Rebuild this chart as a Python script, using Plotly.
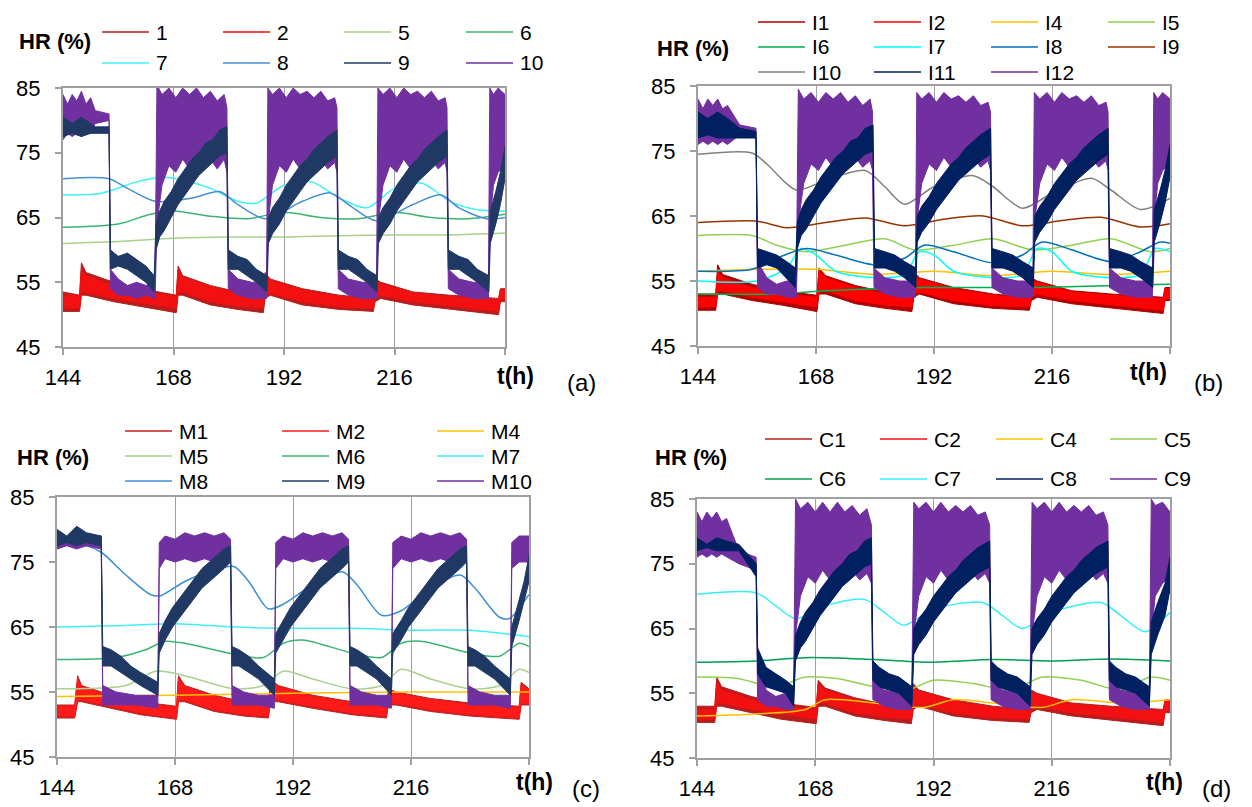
import plotly.graph_objects as go

# page offset: the browser adds an 8px body margin, so the figure is 8px smaller
OFF = 8
FW, FH = 1252 - OFF, 807 - OFF
FONT = "Arial, 'Liberation Sans', sans-serif"
AXIS_GRAY = "#a0a0a0"

X_TICKVALS = [144, 168, 192, 216, 240]
X_TICKTEXT = ["144", "168", "192", "216", ""]
Y_TICKVALS = [45, 55, 65, 75, 85]
Y_TICKTEXT = ["45", "55", "65", "75", "85"]

# ---------------- panel (a) ----------------
A_NAMES = ["1", "2", "5", "6", "7", "8", "9", "10"]
A_COLORS = ["#b81c1c", "#f21010", "#a9d18e", "#3cb371", "#3ff0f5", "#4a8fd0", "#1f3864", "#7030a0"]
# noisy series: rows of (t, upper envelope, lower envelope)
A_S1 = [(144, 53.5, 50.5), (147.6, 53, 50.5), (148.0, 58, 53), (149, 56.5, 53), (155, 55, 52),
        (161, 54, 51.3), (168.6, 53, 50.3), (169.0, 57.5, 53), (170, 56, 53), (176, 54.5, 51.5),
        (182, 53.5, 50.8), (187.5, 53, 50.3), (187.9, 56.5, 52.5), (189, 55.5, 53), (196, 54, 51.5),
        (204, 53, 50.8), (211.4, 52.5, 50.5), (211.8, 55.5, 52), (213, 55, 52.5), (220, 53.5, 51.5),
        (228, 53, 50.8), (238.6, 52.5, 50), (239, 54, 52), (240, 54, 52)]
A_S2 = [(144, 53, 51), (147.6, 53, 51), (148.0, 57, 53.5), (149, 56, 53.5), (155, 54.5, 52.5),
        (161, 53.5, 51.8), (168.6, 52.8, 51), (169.0, 57, 53.5), (170, 55.8, 53.5), (176, 54.3, 52),
        (182, 53.3, 51.3), (187.5, 52.8, 51), (187.9, 56, 53), (189, 55.3, 53.3), (196, 53.8, 52),
        (204, 52.8, 51.2), (211.4, 52.3, 51), (211.8, 55, 52.5), (213, 54.8, 53), (220, 53.3, 52),
        (228, 52.8, 51.3), (238.6, 52.3, 50.5), (239, 53.8, 52.3), (240, 53.8, 52.3)]
# smooth series: rows of (t, value)
A_S5 = [(144, 61), (156, 61.3), (168, 61.8), (180, 62), (192, 62), (204, 62.2), (216, 62.3), (228, 62.3), (240, 62.6)]
A_S6 = [(144, 63.5), (156, 64), (163, 65.5), (168, 66), (176, 65.2), (184, 64.8), (192, 65.8), (200, 65),
        (208, 64.8), (216, 65.8), (224, 65), (232, 64.8), (240, 65.5)]
A_S7 = [(144, 68.5), (152, 68.7), (160, 70.5), (166, 71.2), (170, 70.8), (176, 69.5), (182, 67.5), (186, 67.2),
        (192, 70), (198, 70.5), (204, 68), (210, 66.5), (216, 69.5), (222, 70.3), (228, 67.5), (234, 66.2), (240, 66)]
A_S8 = [(144, 71), (154, 71), (158, 69.5), (164, 67.5), (172, 68), (178, 69), (182, 67), (188, 64.8), (196, 67.5),
        (202, 68.8), (206, 67), (212, 64.5), (220, 67), (226, 68.5), (230, 66.5), (236, 64.8), (240, 65)]
A_S9 = [(144, 80.5, 77.5), (146, 79.5, 78), (148, 80.5, 77.5), (150, 79.5, 78), (151, 79, 78), (154.0, 79, 78),
        (154.3, 60, 57), (156, 59, 57.5), (158, 59.5, 57), (160, 58.5, 56), (162, 57.5, 55), (163.8, 56, 53.5),
        (164.2, 64, 60), (165, 66, 62), (166, 67.5, 63), (167.5, 69, 65), (169, 71, 67), (170.5, 72.5, 68.5),
        (172, 74, 70), (173.5, 75, 71.5), (175, 76.5, 72.5), (176.5, 77, 73.5), (178, 78.5, 74.5), (179.6, 79, 75),
        (179.9, 60, 57), (182, 59, 57), (184, 58.5, 56), (186, 57, 55), (188.3, 56, 53.5),
        (188.6, 65, 61), (189.5, 66.5, 62.5), (191, 68, 64), (192.5, 70, 66), (194, 71.5, 67.5), (195.5, 73, 69),
        (197, 74, 70.5), (198.5, 75.5, 71.5), (200, 76.5, 72.5), (201.5, 77.5, 73.5), (203.5, 78.5, 74.5),
        (203.8, 60, 57), (206, 59, 57), (208, 58.5, 56), (210, 57, 55), (212.2, 56, 53.5),
        (212.5, 65, 61), (213.5, 66.5, 62.5), (215, 68, 64), (216.5, 70, 66), (218, 71.5, 67.5), (219.5, 73, 69),
        (221, 74, 70.5), (222.5, 75.5, 71.5), (224, 76.5, 72.5), (225.5, 77.5, 73.5), (227.4, 78.5, 74.5),
        (227.7, 60, 57), (230, 59, 57), (232, 58.5, 56), (234, 57, 55), (236.5, 56, 53.5),
        (236.8, 66, 61), (238, 69, 64), (239, 72, 67), (240, 76, 71)]
A_S10 = [(144, 84, 77), (145, 82.5, 78), (146, 84, 77.5), (147, 83, 78), (148, 84.5, 77.5), (149, 82.5, 78),
         (150, 83.5, 78), (151, 81.5, 79.5), (154.0, 81, 80),
         (154.3, 57, 54), (156, 55.5, 53), (158, 54.5, 53), (160, 55, 52.5), (162, 54.5, 53), (164.0, 55, 52.5),
         (164.4, 85.5, 64), (165.5, 84, 70), (167, 85, 73), (168.5, 83.5, 72), (170, 85, 74), (171.5, 84, 72.5),
         (173, 85, 74), (174.5, 83.5, 73), (176, 84.5, 74), (177.5, 83, 72.5), (179, 84, 74), (179.6, 82, 72),
         (179.9, 57, 54), (182, 55.5, 53), (185, 55, 52.5), (188.2, 55, 52.5),
         (188.5, 85, 64), (189.5, 84, 70), (191, 85, 73), (192.5, 83.5, 72), (194, 85, 74), (195.5, 84, 72.5),
         (197, 84.5, 74), (198.5, 83.5, 73), (200, 84.5, 74), (201.5, 83, 72.5), (203, 83.5, 73.5), (203.5, 82, 72),
         (203.8, 57, 54), (206, 55.5, 53), (209, 55, 52.5), (212.1, 55, 52.5),
         (212.4, 85, 64), (213.5, 84, 70), (215, 85, 73), (216.5, 83.5, 72), (218, 85, 74), (219.5, 84, 72.5),
         (221, 84.5, 74), (222.5, 83.5, 73), (224, 84.5, 74), (225.5, 83, 72.5), (227, 83.5, 73.5), (227.4, 82, 72),
         (227.7, 57, 54), (230, 55.5, 53), (233, 55, 52.5), (236.4, 55, 52.5),
         (236.7, 85, 64), (237.5, 84, 70), (238.5, 85, 72), (240, 84, 73)]

# ---------------- panel (b) ----------------
B_NAMES = ["I1", "I2", "I4", "I5", "I6", "I7", "I8", "I9", "I10", "I11", "I12"]
B_COLORS = ["#b00000", "#ff0000", "#ffc000", "#92d050", "#00b050", "#00ffff", "#0070c0", "#993300",
            "#808080", "#002060", "#7030a0"]
B_S1 = [(144, 53, 50.5), (147.6, 53, 50.5), (148.0, 57.5, 53), (149, 56, 53), (155, 54.5, 52),
        (161, 53.5, 51.3), (168.2, 52.8, 50.3), (168.6, 57, 53), (170, 55.8, 53), (176, 54.3, 51.5),
        (182, 53.3, 50.8), (187.5, 52.8, 50.3), (187.9, 56.5, 52.5), (189, 55.5, 53), (196, 54, 51.5),
        (204, 53, 50.8), (211.4, 52.5, 50.5), (211.8, 55.5, 52), (213, 55, 52.5), (220, 53.5, 51.5),
        (228, 53, 50.8), (238.6, 52.5, 50), (239, 54, 52), (240, 54, 52)]
B_S2 = [(144, 52.5, 51), (147.6, 52.5, 51), (148.0, 56.5, 53.5), (149, 55.5, 53.5), (155, 54, 52.5),
        (161, 53, 51.8), (168.2, 52.5, 51), (168.6, 56.5, 53.5), (170, 55.5, 53.5), (176, 54, 52),
        (182, 53, 51.3), (187.5, 52.5, 51), (187.9, 56, 53), (189, 55.3, 53.3), (196, 53.8, 52),
        (204, 52.8, 51.2), (211.4, 52.3, 51), (211.8, 55, 52.5), (213, 54.8, 53), (220, 53.3, 52),
        (228, 52.8, 51.3), (238.6, 52.3, 50.5), (239, 53.8, 52.3), (240, 53.8, 52.3)]
B_S4 = [(144, 56.5), (156, 56.8), (168, 56.8), (180, 56), (192, 56.5), (204, 55.8), (216, 56.5), (228, 56), (240, 56.5)]
B_S5 = [(144, 62), (155, 62), (160, 60.5), (166, 59.5), (174, 60.5), (182, 61.5), (188, 59.8), (196, 60.5),
        (204, 61.5), (212, 59.8), (220, 60.5), (228, 61.5), (236, 59.5), (240, 60)]
B_S6 = [(144, 53), (160, 53), (170, 53.5), (190, 54), (210, 54), (240, 54.5)]
B_S7 = [(144, 55), (156, 55), (162, 57), (165, 60), (168, 59), (172, 56.5), (180, 55.5), (186, 56), (189, 59.5),
        (192, 59), (196, 56.5), (204, 55.5), (210, 56), (213, 60), (216, 59.5), (220, 56.5), (228, 55.5),
        (234, 56), (237, 60), (240, 59.5)]
B_S8 = [(144, 56.5), (155, 56.8), (160, 58.5), (166, 60), (172, 59), (180, 57.5), (186, 58.5), (190, 60.5),
        (196, 59.5), (204, 57.8), (210, 59), (214, 61), (220, 59.8), (228, 58), (234, 59.5), (238, 61), (240, 60.8)]
B_S9 = [(144, 64), (156, 64.2), (162, 63.2), (170, 64), (178, 64.7), (186, 63.5), (194, 64.5), (202, 65),
        (210, 63.5), (218, 64.3), (226, 64.8), (234, 63.3), (240, 63.8)]
B_S10 = [(144, 74.5), (155, 74.7), (158, 73), (164, 69), (170, 70.5), (178, 72), (182, 69.5), (186, 66.8),
         (192, 69.5), (200, 71.2), (204, 69.5), (210, 66.2), (216, 68.5), (224, 70.8), (228, 69), (234, 66), (240, 67.7)]
B_S11 = [(144, 81, 77), (146, 80, 77.5), (148, 81, 77), (150, 80, 77), (152.5, 78.5, 77), (155.8, 78, 77),
         (156.1, 60, 57), (158, 59.5, 57.5), (160, 59, 57), (162, 58, 55.5), (163.8, 57, 54),
         (164.2, 64, 60), (165, 66, 62), (166, 67.5, 63), (167.5, 69, 65), (169, 71, 67), (170.5, 72.5, 68.5),
         (172, 74, 70), (173.5, 75, 71.5), (175, 76.5, 72.5), (176.5, 77, 73.5), (178, 78.5, 74.5), (179.6, 79, 75),
         (179.9, 60, 57), (182, 59.5, 57), (184, 59, 56.5), (186, 58, 55.5), (188.3, 57, 54),
         (188.6, 65, 61), (189.5, 66.5, 62.5), (191, 68, 64), (192.5, 70, 66), (194, 71.5, 67.5), (195.5, 73, 69),
         (197, 74, 70.5), (198.5, 75.5, 71.5), (200, 76.5, 72.5), (201.5, 77.5, 73.5), (203.5, 78.5, 74.5),
         (203.8, 60, 57), (206, 59.5, 57), (208, 59, 56.5), (210, 58, 55.5), (212.2, 57, 54),
         (212.5, 65, 61), (213.5, 66.5, 62.5), (215, 68, 64), (216.5, 70, 66), (218, 71.5, 67.5), (219.5, 73, 69),
         (221, 74, 70.5), (222.5, 75.5, 71.5), (224, 76.5, 72.5), (225.5, 77.5, 73.5), (227.4, 78.5, 74.5),
         (227.7, 60, 57), (230, 59.5, 57), (232, 59, 56.5), (234, 58, 55.5), (236.5, 57, 54),
         (236.8, 66, 61), (238, 69, 64), (239, 72, 67), (240, 76, 71)]
B_S12 = [(144, 83, 76), (145, 81.5, 76.5), (146, 83, 76), (147, 82, 76.5), (148, 83, 76), (149, 81.5, 76.5),
         (150, 82, 76), (152.5, 79, 77.5), (155.8, 78.5, 77),
         (156.1, 58, 54), (158, 55.5, 53), (160, 54.5, 53), (162, 55, 52.5), (164.0, 55, 52.5),
         (164.4, 84.5, 64), (165.5, 83, 70), (167, 84, 73), (168.5, 82.5, 72), (170, 84, 74), (171.5, 83, 72.5),
         (173, 84, 74), (174.5, 82.5, 73), (176, 83.5, 74), (177.5, 82, 72.5), (179, 83, 73.5), (179.5, 81, 72),
         (179.8, 57, 54), (182, 55.5, 53), (185, 55, 52.5), (188.2, 55, 52.5),
         (188.5, 84, 64), (189.5, 83, 70), (191, 84, 73), (192.5, 82.5, 72), (194, 84, 74), (195.5, 83, 72.5),
         (197, 83.5, 74), (198.5, 82.5, 73), (200, 83.5, 74), (201.5, 82, 72.5), (203, 82.5, 73.5), (203.5, 81, 72),
         (203.8, 57, 54), (206, 55.5, 53), (209, 55, 52.5), (212.1, 55, 52.5),
         (212.4, 84, 64), (213.5, 83, 70), (215, 84, 73), (216.5, 82.5, 72), (218, 84, 74), (219.5, 83, 72.5),
         (221, 83.5, 74), (222.5, 82.5, 73), (224, 83.5, 74), (225.5, 82, 72.5), (227, 82.5, 73.5), (227.4, 81, 72),
         (227.7, 57, 54), (230, 55.5, 53), (233, 55, 52.5), (236.4, 55, 52.5),
         (236.7, 84, 64), (237.5, 83, 70), (238.5, 84, 72), (240, 83, 73)]

# ---------------- panel (c) ----------------
C_NAMES = ["M1", "M2", "M4", "M5", "M6", "M7", "M8", "M9", "M10"]
C_COLORS = ["#c81e1e", "#ff1a1a", "#ffc000", "#a9d18e", "#3cb371", "#3ff0f5", "#3d8fd6", "#1f3864", "#7030a0"]
C_S1 = [(144, 53, 51), (147.6, 53, 51), (148.2, 57.5, 53.5), (149, 56, 53.5), (155, 54.5, 52.5),
        (161, 53.5, 51.5), (168.3, 52.8, 50.8), (168.7, 57.5, 53.5), (170, 56, 53.5), (176, 54.5, 52),
        (182, 53.5, 51.3), (187, 53, 51), (187.4, 57, 53.5), (189, 56, 53.5), (196, 54.5, 52.5),
        (204, 53.5, 51.5), (211.0, 53, 51), (211.4, 55.5, 53), (213, 55, 53), (220, 54, 52),
        (228, 53.3, 51.3), (238.0, 52.8, 50.8), (238.4, 56.5, 53), (240, 55.5, 53)]
C_S2 = [(144, 52.8, 51.3), (147.6, 52.8, 51.3), (148.2, 57, 53.8), (149, 55.8, 53.8), (155, 54.3, 52.8),
        (161, 53.3, 51.8), (168.3, 52.6, 51), (168.7, 57, 53.8), (170, 55.8, 53.8), (176, 54.3, 52.3),
        (182, 53.3, 51.6), (187, 52.8, 51.3), (187.4, 56.5, 53.8), (189, 55.8, 53.8), (196, 54.3, 52.8),
        (204, 53.3, 51.8), (211.0, 52.8, 51.3), (211.4, 55.3, 53.3), (213, 54.8, 53.3), (220, 53.8, 52.3),
        (228, 53, 51.6), (238.0, 52.6, 51), (238.4, 56, 53.3), (240, 55.3, 53.3)]
C_S4 = [(144, 54.3), (168, 54.5), (192, 54.8), (216, 55), (240, 55)]
C_S5 = [(144, 55.5), (158, 56), (164, 58.2), (170, 57.5), (180, 55.5), (186, 56), (190, 58.2), (196, 57),
        (204, 55.5), (210, 56), (214, 58.5), (220, 57), (228, 55.5), (234, 56), (238, 58.5), (240, 58)]
C_S6 = [(144, 60), (156, 60.3), (162, 61.5), (166, 62.8), (170, 62.5), (180, 60.8), (186, 60.3), (190, 62.5),
        (194, 63), (204, 61), (210, 60.3), (214, 62.5), (218, 62.8), (228, 61), (234, 60.5), (238, 62.5), (240, 62)]
C_S7 = [(144, 65), (156, 65.2), (168, 65.5), (180, 65), (192, 64.8), (204, 64.8), (216, 64.5), (228, 64.5), (240, 63.5)]
C_S8 = [(144, 77.5), (150, 77.5), (153, 76.5), (158, 73), (163, 70), (165, 69.8), (170, 72), (176, 73.8), (180, 74.3),
        (183, 72), (187, 67.8), (190, 68.5), (196, 71.5), (202, 73.5), (205, 71.5), (210, 66.8), (214, 67.5),
        (220, 71), (226, 73), (229, 71), (234, 66.5), (236, 66.3), (240, 70)]
C_S9 = [(144, 80, 77.5), (146, 79, 78), (148, 80.5, 77.5), (150, 79.5, 78), (153.0, 79, 77.5),
        (153.3, 62, 59), (155, 61.5, 59), (157, 60.5, 58), (159, 59, 57), (161, 58, 56), (164.5, 56.5, 54.5),
        (164.8, 64, 61), (166, 66, 63), (167.5, 68, 65), (169, 69.5, 66.5), (170.5, 71, 68), (172, 72.5, 69.5),
        (173.5, 74, 71), (175, 75, 72), (176.5, 76, 73), (178, 77, 74), (179.3, 77.5, 75),
        (179.6, 62, 59), (181, 61.5, 59), (183, 60.5, 58), (185, 59, 57), (188.2, 57, 54.5),
        (188.5, 64, 61), (190, 66, 63), (191.5, 68, 65), (193, 69.5, 66.5), (194.5, 71, 68), (196, 72.5, 69.5),
        (197.5, 74, 71), (199, 75, 72), (200.5, 76, 73), (202, 77, 74), (203.3, 77.5, 75),
        (203.6, 62, 59), (205, 61.5, 59), (207, 60.5, 58), (209, 59, 57), (212.0, 57, 54.5),
        (212.3, 64, 61), (214, 66, 63), (215.5, 68, 65), (217, 69.5, 66.5), (218.5, 71, 68), (220, 72.5, 69.5),
        (221.5, 74, 71), (223, 75, 72), (224.5, 76, 73), (226, 77, 74), (227.3, 77.5, 75),
        (227.6, 62, 59), (229, 61.5, 59), (231, 60.5, 58), (233, 59, 57), (236.2, 57, 54.5),
        (236.5, 65, 62), (238, 69, 66), (239, 72, 69), (240, 76, 72)]
C_S10 = [(144, 79.5, 77), (146, 78.5, 77.5), (148, 79.5, 77), (150, 78.5, 77.5), (153.0, 79, 77),
         (153.3, 56, 53), (156, 55, 53), (160, 54.5, 53), (164.5, 54.5, 52.5),
         (164.8, 78, 74), (166, 79, 75.5), (168, 78.5, 75), (170, 79.5, 75.5), (172, 79, 75), (174, 79.5, 75.5),
         (176, 79, 75), (178, 79.5, 75.5), (179.3, 78.5, 75),
         (179.6, 56, 53), (182, 55, 53), (185, 54.5, 53), (188.2, 54.5, 52.5),
         (188.5, 78, 74), (190, 79, 75.5), (192, 78.5, 75), (194, 79.5, 75.5), (196, 79, 75), (198, 79.5, 75.5),
         (200, 79, 75), (202, 79.5, 75.5), (203.3, 78.5, 75),
         (203.6, 56, 53), (206, 55, 53), (209, 54.5, 53), (212.0, 54.5, 52.5),
         (212.3, 78, 74), (214, 79, 75.5), (216, 78.5, 75), (218, 79.5, 75.5), (220, 79, 75), (222, 79.5, 75.5),
         (224, 79, 75), (226, 79.5, 75.5), (227.3, 78.5, 75),
         (227.6, 56, 53), (230, 55, 53), (233, 54.5, 53), (236.2, 54.5, 52.5),
         (236.5, 78, 74), (238, 79, 75), (240, 79, 75)]

# ---------------- panel (d) ----------------
D_NAMES = ["C1", "C2", "C4", "C5", "C6", "C7", "C8", "C9"]
D_COLORS = ["#b81c1c", "#f21010", "#ffc000", "#92d050", "#00a050", "#33f0f5", "#002060", "#7030a0"]
D_S1 = [(144, 53, 50.5), (147.6, 53, 50.5), (148.0, 57.5, 53), (149, 56, 53), (155, 54.5, 52),
        (161, 53.5, 51), (168.2, 52.8, 50.3), (168.6, 57, 53), (170, 55.8, 53), (176, 54.3, 51.5),
        (182, 53.3, 50.8), (187.5, 52.8, 50.3), (187.9, 56.5, 52.5), (189, 55.5, 53), (196, 54, 51.5),
        (204, 53, 50.8), (211.4, 52.5, 50.5), (211.8, 55.5, 52), (213, 55, 52.5), (220, 53.5, 51.5),
        (228, 53, 50.8), (238.6, 52.5, 50), (239, 54, 52), (240, 54, 52)]
D_S2 = [(144, 52.5, 51), (147.6, 52.5, 51), (148.0, 56.5, 53.5), (149, 55.5, 53.5), (155, 54, 52.5),
        (161, 53, 51.8), (168.2, 52.5, 51), (168.6, 56.5, 53.5), (170, 55.5, 53.5), (176, 54, 52),
        (182, 53, 51.3), (187.5, 52.5, 51), (187.9, 56, 53), (189, 55.3, 53.3), (196, 53.8, 52),
        (204, 52.8, 51.2), (211.4, 52.3, 51), (211.8, 55, 52.5), (213, 54.8, 53), (220, 53.3, 52),
        (228, 52.8, 51.3), (238.6, 52.3, 50.5), (239, 53.8, 52.3), (240, 53.8, 52.3)]
D_S4 = [(144, 51.5), (156, 51.8), (166, 52.5), (170, 54), (180, 53.5), (190, 52.8), (196, 54), (204, 53.5),
        (214, 52.8), (220, 54), (230, 53.5), (240, 54)]
D_S5 = [(144, 57.5), (152, 57.3), (160, 56), (166, 57.5), (172, 57.3), (180, 56), (186, 55.3), (192, 57),
        (200, 56.5), (208, 55.5), (214, 57.5), (222, 57), (230, 55.5), (236, 57.5), (240, 57)]
D_S6 = [(144, 59.8), (156, 60), (166, 60.5), (180, 60.2), (192, 59.8), (204, 60.2), (216, 60), (228, 60.3), (240, 60)]
D_S7 = [(144, 70.3), (156, 70.5), (160, 68.5), (164, 66.5), (170, 68.5), (178, 69.5), (182, 67.5), (186, 65.5),
        (192, 68), (202, 69), (206, 67), (210, 65), (216, 67.5), (226, 69), (230, 67), (235, 64.5), (240, 67.5)]
D_S8 = [(144, 79, 77), (146, 78, 77.5), (148, 79, 77), (150, 78.5, 77), (152.5, 78, 77), (156.0, 75, 73),
        (156.3, 62, 58), (158, 59, 56), (160, 58, 55.5), (162, 57, 55), (163.6, 56, 53),
        (164.0, 64, 60), (165, 66, 62), (166, 67.5, 63), (167.5, 69, 65), (169, 71, 67), (170.5, 72.5, 68.5),
        (172, 74, 70), (173.5, 75, 71.5), (175, 76.5, 72.5), (176.5, 77, 73.5), (178, 78.5, 74.5), (179.4, 79, 75),
        (179.7, 60, 57), (181, 59, 56), (183, 58, 55.5), (185, 57.5, 55), (187.6, 56, 53),
        (188.0, 65, 61), (189, 66.5, 62.5), (190.5, 68, 64), (192, 70, 66), (193.5, 71.5, 67.5), (195, 73, 69),
        (196.5, 74, 70.5), (198, 75.5, 71.5), (199.5, 76.5, 72.5), (201, 77.5, 73.5), (203.4, 78.5, 74.5),
        (203.7, 60, 57), (205, 59, 56), (207, 58, 55.5), (209, 57.5, 55), (211.6, 56, 53),
        (212.0, 65, 61), (213, 66.5, 62.5), (214.5, 68, 64), (216, 70, 66), (217.5, 71.5, 67.5), (219, 73, 69),
        (220.5, 74, 70.5), (222, 75.5, 71.5), (223.5, 76.5, 72.5), (225, 77.5, 73.5), (227.4, 78.5, 74.5),
        (227.7, 60, 57), (229, 59, 56), (231, 58, 55.5), (233, 57.5, 55), (235.8, 56, 53),
        (236.2, 66, 61), (237.5, 69, 64), (239, 72, 67), (240, 76, 71)]
D_S9 = [(144, 83, 76), (145, 81.5, 76.5), (146, 83, 76), (147, 82, 76.5), (148, 83, 76), (149, 81.5, 76.5),
        (150, 82, 76), (152.5, 77, 75), (156.0, 76, 74),
        (156.3, 62, 54), (158, 55.5, 53), (160, 54.5, 53), (162, 55, 52.5), (163.6, 55, 52.5),
        (164.0, 85, 64), (165, 83.5, 70), (166.5, 84.5, 73), (168, 83, 72), (169.5, 84.5, 74), (171, 83, 72.5),
        (172.5, 84.5, 74), (174, 83, 73), (175.5, 84, 74), (177, 82.5, 72.5), (178.5, 83.5, 73.5), (179.4, 81, 72),
        (179.7, 57, 54), (182, 55.5, 53), (185, 55, 52.5), (187.6, 55, 52.5),
        (188.0, 84.5, 64), (189, 83.5, 70), (190.5, 84.5, 73), (192, 83, 72), (193.5, 84.5, 74), (195, 83, 72.5),
        (196.5, 84, 74), (198, 83, 73), (199.5, 84, 74), (201, 82.5, 72.5), (202.5, 83, 73.5), (203.4, 81, 72),
        (203.7, 57, 54), (206, 55.5, 53), (209, 55, 52.5), (211.6, 55, 52.5),
        (212.0, 84.5, 64), (213, 83.5, 70), (214.5, 84.5, 73), (216, 83, 72), (217.5, 84.5, 74), (219, 83, 72.5),
        (220.5, 84, 74), (222, 83, 73), (223.5, 84, 74), (225, 82.5, 72.5), (226.5, 83, 73.5), (227.4, 81, 72),
        (227.7, 57, 54), (230, 55.5, 53), (233, 55, 52.5), (235.8, 55, 52.5),
        (236.2, 85, 64), (237, 84, 70), (238.5, 84.5, 72), (240, 83, 73)]

PANELS = [
    dict(tag="(a)", box=(63, 505, 88, 347), cols=[102, 223, 344, 466], rows=[32, 63],
         hr=(17, 42), th=(495, 376), lab=(565, 382),
         names=A_NAMES, colors=A_COLORS,
         data=[A_S1, A_S2, A_S5, A_S6, A_S7, A_S8, A_S9, A_S10]),
    dict(tag="(b)", box=(698, 1170, 86, 346), cols=[758, 874, 991, 1108], rows=[22, 47, 72],
         hr=(655, 48), th=(1128, 372), lab=(1192, 382),
         names=B_NAMES, colors=B_COLORS,
         data=[B_S1, B_S2, B_S4, B_S5, B_S6, B_S7, B_S8, B_S9, B_S10, B_S11, B_S12]),
    dict(tag="(c)", box=(57, 529, 497, 757), cols=[125, 282, 437], rows=[431, 456, 481],
         hr=(15, 458), th=(514, 782), lab=(570, 788),
         names=C_NAMES, colors=C_COLORS,
         data=[C_S1, C_S2, C_S4, C_S5, C_S6, C_S7, C_S8, C_S9, C_S10]),
    dict(tag="(d)", box=(697, 1170, 499, 758), cols=[765, 880, 996, 1110], rows=[439, 479],
         hr=(653, 458), th=(1144, 782), lab=(1200, 788),
         names=D_NAMES, colors=D_COLORS,
         data=[D_S1, D_S2, D_S4, D_S5, D_S6, D_S7, D_S8, D_S9]),
]

fig = go.Figure()
shapes, annotations = [], []


def px(x):
    return (x - OFF) / FW


def py(y):
    return 1 - (y - OFF) / FH


for i, p in enumerate(PANELS):
    sfx = "" if i == 0 else str(i + 1)
    xa, ya = "x" + sfx, "y" + sfx
    n = len(p["names"])
    # draw order: legend order, but the navy series goes on top of the purple one
    order = list(range(n - 2)) + [n - 1, n - 2]
    for k in order:
        name, color, rows = p["names"][k], p["colors"][k], p["data"][k]
        if len(rows[0]) == 3:
            t = [r[0] for r in rows]
            hi = [r[1] for r in rows]
            lo = [r[2] for r in rows]
            fig.add_trace(go.Scatter(x=t + t[::-1], y=hi + lo[::-1], mode="lines", fill="toself",
                                     fillcolor=color, line=dict(color=color, width=1), name=name,
                                     xaxis=xa, yaxis=ya, showlegend=False, hoverinfo="skip"))
        else:
            fig.add_trace(go.Scatter(x=[r[0] for r in rows], y=[r[1] for r in rows], mode="lines",
                                     line=dict(color=color, width=1.5, shape="spline", smoothing=0.8),
                                     name=name, xaxis=xa, yaxis=ya, showlegend=False, hoverinfo="skip"))
    x0, x1, y0, y1 = p["box"]
    common = dict(showline=True, linecolor=AXIS_GRAY, linewidth=2, mirror=True, ticks="outside",
                  ticklen=6, tickwidth=1.5, tickcolor=AXIS_GRAY, zeroline=False, automargin=False,
                  tickfont=dict(family=FONT, size=22, color="#000000"))
    fig.update_layout(**{
        "xaxis" + sfx: dict(domain=[px(x0), px(x1)], anchor=ya, range=[144, 240], tickmode="array",
                             tickvals=X_TICKVALS, ticktext=X_TICKTEXT, showgrid=True, gridcolor=AXIS_GRAY,
                             gridwidth=1, ticklabelstandoff=4, **common),
        "yaxis" + sfx: dict(domain=[py(y1), py(y0)], anchor=xa, range=[45, 85], tickmode="array",
                             tickvals=Y_TICKVALS, ticktext=Y_TICKTEXT, showgrid=False,
                             ticklabelstandoff=10, **common),
    })
    ncol = len(p["cols"])
    for k, (name, color) in enumerate(zip(p["names"], p["colors"])):
        cx = p["cols"][k % ncol]
        ry = p["rows"][k // ncol]
        shapes.append(dict(type="line", xref="paper", yref="paper", x0=px(cx), x1=px(cx + 47),
                           y0=py(ry), y1=py(ry), line=dict(color=color, width=1.5)))
        annotations.append(dict(text=name, xref="paper", yref="paper", x=px(cx + 52), y=py(ry),
                                xanchor="left", yanchor="middle", showarrow=False,
                                font=dict(family=FONT, size=21, color="#000000")))
    annotations.append(dict(text="<b>HR (%)</b>", xref="paper", yref="paper", x=px(p["hr"][0]),
                            y=py(p["hr"][1]), xanchor="left", yanchor="middle", showarrow=False,
                            font=dict(family=FONT, size=22, color="#000000")))
    annotations.append(dict(text="<b>t(h)</b>", xref="paper", yref="paper", x=px(p["th"][0]),
                            y=py(p["th"][1]), xanchor="left", yanchor="middle", showarrow=False,
                            font=dict(family=FONT, size=23, color="#000000")))
    annotations.append(dict(text=p["tag"], xref="paper", yref="paper", x=px(p["lab"][0]),
                            y=py(p["lab"][1]), xanchor="left", yanchor="middle", showarrow=False,
                            font=dict(family=FONT, size=24, color="#000000")))

fig.update_layout(width=FW, height=FH, margin=dict(l=0, r=0, t=0, b=0), showlegend=False,
                  paper_bgcolor="#ffffff", plot_bgcolor="#ffffff", shapes=shapes,
                  annotations=annotations, font=dict(family=FONT))
fig.write_html("out.html")
